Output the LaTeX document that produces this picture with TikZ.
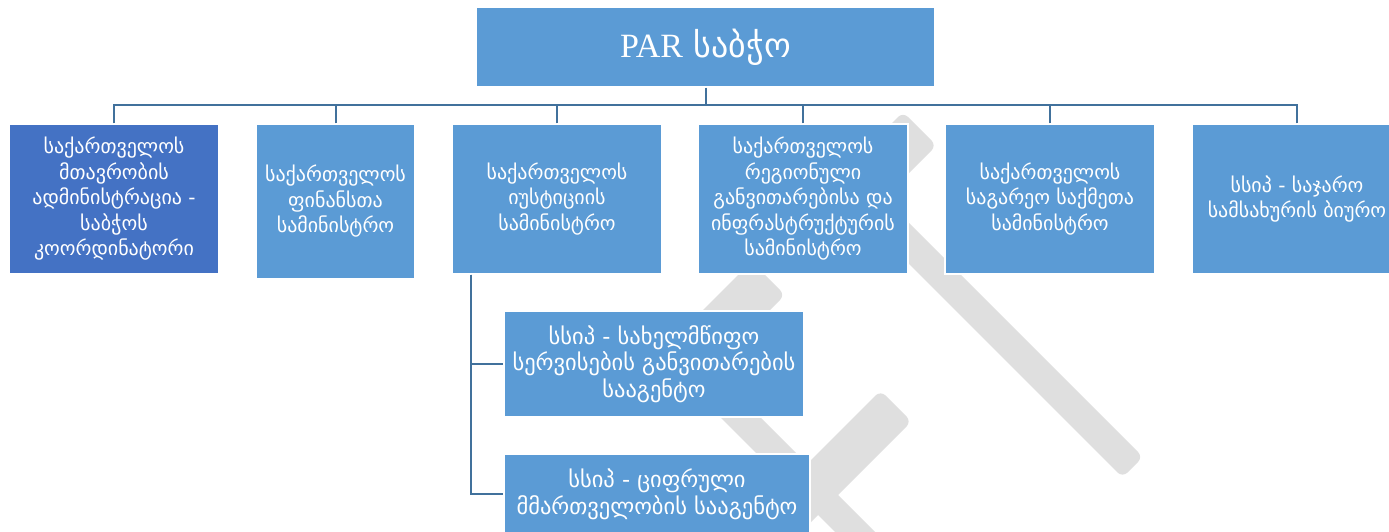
\documentclass[tikz,border=0pt]{standalone}
\usepackage{fontspec}
\setmainfont{DejaVu Sans}
\newfontfamily\latfont{Liberation Serif}
\definecolor{boxblue}{HTML}{5B9BD5}
\definecolor{darkbox}{HTML}{4472C4}
\definecolor{conncol}{HTML}{41719C}
\definecolor{wmgray}{HTML}{DFDFDF}
\begin{document}
\begin{tikzpicture}[x=1pt,y=-1pt,
  orgbox/.style={fill=boxblue, draw=white, line width=1.2pt, text=white, align=center, inner sep=0pt, font=\fontsize{20}{25.5}\selectfont},
  subbox/.style={orgbox, font=\fontsize{22.5}{26.7}\selectfont},
  conn/.style={draw=conncol, line width=2pt},
  wm/.style={fill=wmgray, rounded corners=7pt}]
\useasboundingbox (0,0) rectangle (1389,532);
\begin{scope}
\clip (0,0) rectangle (1389,532);
% watermark (gavel), drawn in a frame turned by 45 degrees
\begin{scope}[rotate=-45, scale=0.70711]
  \fill[wm] (1015,-791) rectangle (1082,-539);
  \fill[wm] (1070,-686) rectangle (1600,-645);
  \fill[wm] (1013,-490) rectangle (1080,-290);
  \fill[wm] (1271,-490) rectangle (1333,-250);
  \fill[wm] (1000,-343) rectangle (1700,-303);
\end{scope}
% boxes
\node[orgbox, minimum width=459pt, minimum height=80pt, font=\fontsize{34}{40}\selectfont] (top) at (705.5,47) {{\latfont PAR} საბჭო};
\node[orgbox, fill=darkbox, minimum width=210pt, minimum height=150pt] (b1) at (114,199) {საქართველოს\\მთავრობის\\ადმინისტრაცია -\\საბჭოს\\კოორდინატორი};
\node[orgbox, minimum width=159pt, minimum height=155pt] (b2) at (335.5,201.5) {საქართველოს\\ფინანსთა\\სამინისტრო};
\node[orgbox, minimum width=210pt, minimum height=150pt] (b3) at (557,199) {საქართველოს\\იუსტიციის\\სამინისტრო};
\node[orgbox, minimum width=210pt, minimum height=150pt] (b4) at (803,199) {საქართველოს\\რეგიონული\\განვითარებისა და\\ინფრასტრუქტურის\\სამინისტრო};
\node[orgbox, minimum width=210pt, minimum height=150pt] (b5) at (1050,199) {საქართველოს\\საგარეო საქმეთა\\სამინისტრო};
\node[orgbox, minimum width=210pt, minimum height=150pt] (b6) at (1297,199) {სსიპ - საჯარო\\სამსახურის ბიურო};
\node[subbox, minimum width=300pt, minimum height=106pt] (b7) at (654,364) {სსიპ - სახელმწიფო\\სერვისების განვითარების\\სააგენტო};
\node[subbox, minimum width=306pt, minimum height=80pt] (b8) at (657,494) {სსიპ - ციფრული\\მმართველობის სააგენტო};
% connectors
\coordinate (bus) at (705.5,105);
\draw[conn] (top.south) -- (bus);
\foreach \b in {b1,b2,b3,b4,b5,b6} {
  \draw[conn] (\b.north) |- (bus);
}
\coordinate (sub) at ([xshift=20pt]b3.south west);
\draw[conn] (sub) |- (b7.west);
\draw[conn] (sub) |- (b8.west);
\end{scope}
\end{tikzpicture}
\end{document}
